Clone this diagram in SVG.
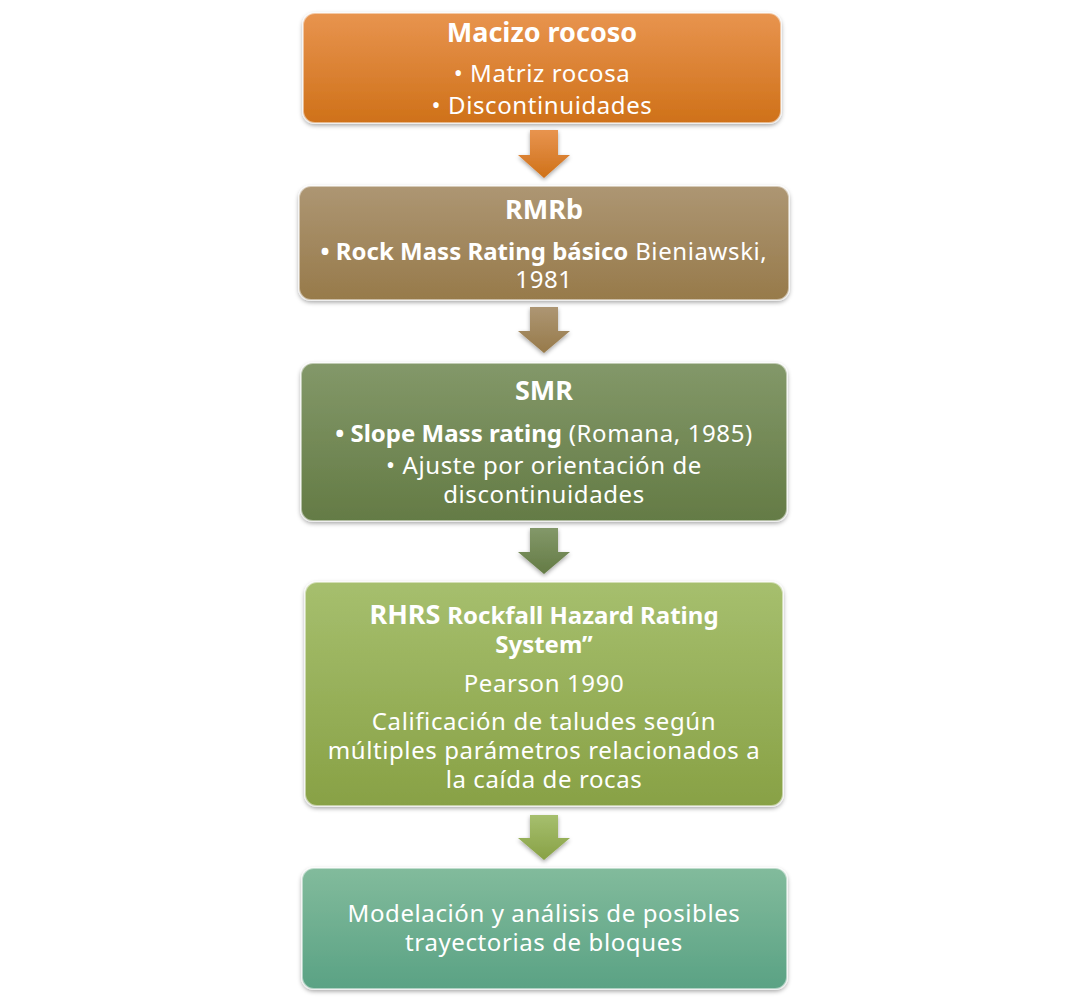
<svg xmlns="http://www.w3.org/2000/svg" width="1089" height="1002" viewBox="0 0 1089 1002">
<style>
text{font-family:"Noto Sans","DejaVu Sans",sans-serif;fill:#fff;text-anchor:middle;font-size:24px;letter-spacing:0.6px}
.b{font-weight:bold;letter-spacing:0}
.t{font-weight:bold;font-size:27px;letter-spacing:0}
.box{stroke:rgba(255,255,255,0.5);stroke-width:2}
</style>
<defs>
<filter id="sh" x="-10%" y="-10%" width="120%" height="130%"><feDropShadow dx="0" dy="2" stdDeviation="2" flood-opacity="0.35"/></filter>
<linearGradient id="g1" x1="0" y1="0" x2="0" y2="1"><stop offset="0" stop-color="#e8944f"/><stop offset="1" stop-color="#cf7119"/></linearGradient>
<linearGradient id="g2" x1="0" y1="0" x2="0" y2="1"><stop offset="0" stop-color="#ad9673"/><stop offset="1" stop-color="#977a4a"/></linearGradient>
<linearGradient id="g3" x1="0" y1="0" x2="0" y2="1"><stop offset="0" stop-color="#839869"/><stop offset="1" stop-color="#647b45"/></linearGradient>
<linearGradient id="g4" x1="0" y1="0" x2="0" y2="1"><stop offset="0" stop-color="#a6bf6e"/><stop offset="1" stop-color="#88a145"/></linearGradient>
<linearGradient id="g5" x1="0" y1="0" x2="0" y2="1"><stop offset="0" stop-color="#82bb9c"/><stop offset="1" stop-color="#5aa284"/></linearGradient>
</defs>
<g id="connectors" filter="url(#sh)">
<path d="M530 130H558V155H570L544 178L518 155H530Z" fill="url(#g1)"/>
<path d="M530 307H558V331H570L544 353L518 331H530Z" fill="url(#g2)"/>
<path d="M530 528H558V552H570L544 574L518 552H530Z" fill="url(#g3)"/>
<path d="M530 815H558V838H570L544 860L518 838H530Z" fill="url(#g4)"/>
</g>
<g id="n1"><rect class="box" x="303" y="13" width="478" height="110" rx="12" fill="url(#g1)" filter="url(#sh)"/>
<text x="542" y="42" class="t">Macizo rocoso</text>
<text x="542" y="82">• Matriz rocosa</text>
<text x="542" y="114">• Discontinuidades</text></g>
<g id="n2"><rect class="box" x="299" y="186" width="490" height="114" rx="12" fill="url(#g2)" filter="url(#sh)"/>
<text x="544" y="219" class="t">RMRb</text>
<text x="544" y="260"><tspan class="b">• Rock Mass Rating básico</tspan> Bieniawski,</text>
<text x="544" y="288">1981</text></g>
<g id="n3"><rect class="box" x="301" y="363" width="486" height="158" rx="12" fill="url(#g3)" filter="url(#sh)"/>
<text x="544" y="400" class="t">SMR</text>
<text x="544" y="442"><tspan class="b">• Slope Mass rating</tspan> (Romana, 1985)</text>
<text x="544" y="474">• Ajuste por orientación de</text>
<text x="544" y="503">discontinuidades</text></g>
<g id="n4"><rect class="box" x="305" y="582" width="478" height="224" rx="12" fill="url(#g4)" filter="url(#sh)"/>
<text x="544" y="624"><tspan class="t">RHRS</tspan> <tspan class="b">Rockfall Hazard Rating</tspan></text>
<text x="544" y="653" class="b">System”</text>
<text x="544" y="692">Pearson 1990</text>
<text x="544" y="730">Calificación de taludes según</text>
<text x="544" y="759">múltiples parámetros relacionados a</text>
<text x="544" y="788">la caída de rocas</text></g>
<g id="n5"><rect class="box" x="302" y="868" width="485" height="121" rx="12" fill="url(#g5)" filter="url(#sh)"/>
<text x="544" y="922">Modelación y análisis de posibles</text>
<text x="544" y="951">trayectorias de bloques</text></g>
</svg>
